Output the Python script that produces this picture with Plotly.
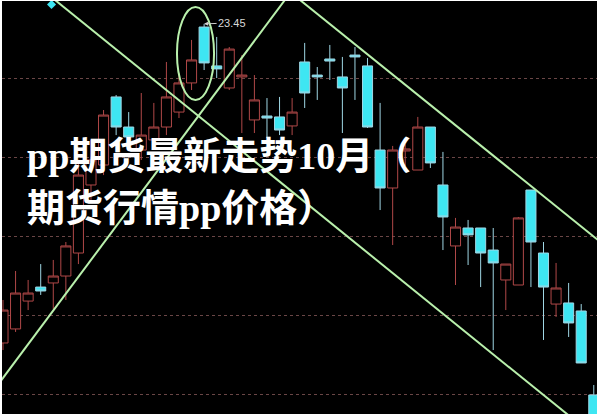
import plotly.graph_objects as go

# ---- data ----
idx = list(range(48))
opens = [21.424, 21.513, 21.690, 21.779, 21.805, 21.849, 21.995, 22.427, 22.554, 22.986,
         22.795, 22.649, 22.713, 22.795, 22.890, 23.075, 23.430, 23.183, 23.043, 23.113,
         22.840, 22.865, 22.859, 22.802, 23.208, 23.125, 23.227, 23.113, 23.252, 23.183,
         22.649, 22.408, 22.643, 22.522, 22.795, 22.427, 22.040, 22.154, 22.154, 22.014,
         21.824, 21.792, 22.395, 21.995, 21.671, 21.678, 21.627, 21.094]
highs = [21.697, 21.881, 21.824, 21.925, 21.951, 22.065, 22.586, 22.713, 22.903, 22.998,
         22.890, 23.011, 22.948, 23.208, 23.138, 23.348, 23.450, 23.367, 23.303, 23.252,
         23.125, 22.979, 22.986, 22.979, 23.329, 23.176, 23.316, 23.240, 23.303, 23.233,
         22.948, 22.675, 22.687, 22.859, 22.795, 22.637, 22.218, 22.205, 22.154, 22.154,
         21.925, 22.224, 22.395, 22.065, 21.932, 21.805, 21.671, 21.157]
lows = [21.379, 21.494, 21.633, 21.729, 21.640, 21.697, 21.925, 22.332, 22.490, 22.744,
        22.681, 22.586, 22.649, 22.744, 22.852, 23.030, 23.157, 23.106, 23.030, 22.757,
        22.757, 22.725, 22.744, 22.744, 22.916, 22.967, 23.094, 22.757, 22.967, 22.789,
        22.268, 22.046, 22.548, 22.522, 22.535, 22.014, 21.792, 21.919, 21.779, 21.379,
        21.633, 21.792, 21.779, 21.443, 21.589, 21.462, 21.297, 20.935]
closes = [21.633, 21.741, 21.741, 21.754, 21.849, 22.040, 22.490, 22.586, 22.871, 22.795,
          22.732, 22.744, 22.795, 22.986, 23.075, 23.221, 23.202, 23.164, 23.290, 23.125,
          22.967, 22.852, 22.776, 22.890, 23.011, 23.113, 23.214, 23.043, 23.240, 22.795,
          22.408, 22.649, 22.656, 22.795, 22.567, 22.224, 22.160, 22.110, 21.995, 21.932,
          21.925, 22.218, 22.065, 21.779, 21.773, 21.551, 21.297, 20.935]

# trend lines (index, price endpoints)
trend_a_x = [3.0, 46.0]
trend_a_y = [23.675, 20.900]
trend_b_x = [-1.0, 23.0]
trend_b_y = [21.095, 23.663]
trend_c_x = [23.0, 48.0]
trend_c_y = [23.642, 22.035]

# highlight ellipse around the peak
ellipse_x = [13.84, 16.79]
ellipse_y = [22.967, 23.557]

# signal marker
signal_x = [3.86]
signal_y = [23.573]

peak_idx = 16
peak_label = "23.45"

grid_levels = [21.1, 21.6, 22.1, 22.6, 23.1]
title_line1 = "<b>pp期货最新走势10月（</b>"
title_line2 = "<b>期货行情pp价格）</b>"

LINE_GREEN = "#b9f0ac"

fig = go.Figure()
fig.add_trace(go.Candlestick(
    x=idx, open=opens, high=highs, low=lows, close=closes,
    increasing=dict(line=dict(color="#b04848", width=1), fillcolor="#000000"),
    decreasing=dict(line=dict(color="#9fd6e4", width=1), fillcolor="#3ee6f2"),
    whiskerwidth=0, hoverinfo="skip", showlegend=False,
))
for tx, ty in [(trend_a_x, trend_a_y), (trend_b_x, trend_b_y), (trend_c_x, trend_c_y)]:
    fig.add_trace(go.Scatter(x=tx, y=ty, mode="lines",
                             line=dict(color=LINE_GREEN, width=2),
                             hoverinfo="skip", showlegend=False))
fig.add_trace(go.Scatter(x=signal_x, y=signal_y, mode="markers",
                         marker=dict(symbol="diamond", size=7, color="#3ee6f2"),
                         hoverinfo="skip", showlegend=False))

fig.add_shape(type="circle", xref="x", yref="y",
              x0=ellipse_x[0], x1=ellipse_x[1], y0=ellipse_y[0], y1=ellipse_y[1],
              line=dict(color=LINE_GREEN, width=2))

fig.add_annotation(x=peak_idx, y=highs[peak_idx], xref="x", yref="y",
                   text=peak_label, showarrow=True, arrowhead=2, arrowsize=0.8,
                   arrowwidth=1, arrowcolor="#cfcfcf", ax=28, ay=-1,
                   font=dict(family="Liberation Sans, Arial", size=11, color="#d8d8d8"))

fig.add_annotation(x=0.0387, y=0.6247, xref="paper", yref="paper",
                   text=title_line1, showarrow=False, xanchor="left", yanchor="middle",
                   font=dict(family="Liberation Serif, Noto Sans CJK SC", size=38, color="#ffffff"))
fig.add_annotation(x=0.0387, y=0.4988, xref="paper", yref="paper",
                   text=title_line2, showarrow=False, xanchor="left", yanchor="middle",
                   font=dict(family="Liberation Serif, Noto Sans CJK SC", size=38, color="#ffffff"))

fig.update_layout(
    width=600, height=414,
    margin=dict(l=2, r=3, t=1, b=0),
    paper_bgcolor="#ffffff", plot_bgcolor="#000000",
    boxgap=0.2, boxgroupgap=0,
    hovermode=False,
    xaxis=dict(range=[-0.0796, 47.256], showgrid=False, zeroline=False,
               showticklabels=False, ticks="", rangeslider=dict(visible=False),
               fixedrange=True),
    yaxis=dict(range=[20.973, 23.5952], tickvals=grid_levels, showticklabels=False,
               ticks="", showgrid=True, gridcolor="#6a4646", griddash="dot",
               gridwidth=1, zeroline=False, fixedrange=True),
)

fig.write_html(
    "out.html",
    config={"displayModeBar": False, "staticPlot": True},
    post_script="document.body.style.margin='0';document.body.style.overflow='hidden';",
)
